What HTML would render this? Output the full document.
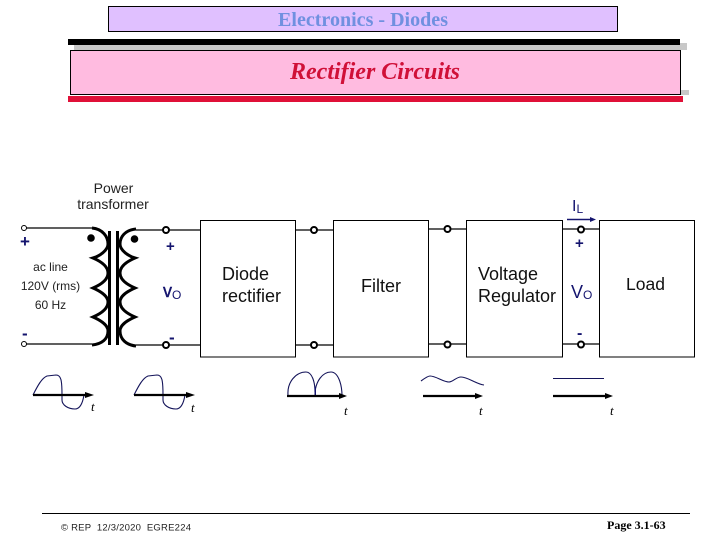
<!DOCTYPE html>
<html>
<head>
<meta charset="utf-8">
<style>
html,body{margin:0;padding:0;background:#fff;}
body{width:720px;height:540px;overflow:hidden;}
svg{display:block;}
text{font-family:"Liberation Sans",sans-serif;}
.s{font-family:"Liberation Serif",serif;}
.l{stroke:#000;stroke-width:1.2;fill:none;}
.c{stroke:#000;stroke-width:2;fill:#fff;}
.w{stroke:#14145a;stroke-width:1.1;fill:none;}
.a{stroke:#000;stroke-width:2.2;fill:none;}
</style>
</head>
<body>
<svg width="720" height="540" viewBox="0 0 720 540" xmlns="http://www.w3.org/2000/svg">
<rect width="720" height="540" fill="#fff"/>
<!-- header -->
<rect x="108.500" y="6.500" width="509" height="25" fill="#e0c0ff" stroke="#000" stroke-width="1"/>
<text class="s" x="278" y="26" font-size="20" font-weight="bold" fill="#7090e0" textLength="170" lengthAdjust="spacingAndGlyphs">Electronics - Diodes</text>
<rect x="74" y="43" width="613" height="7" fill="#c8c8c8"/>
<rect x="681" y="90" width="8" height="5" fill="#c8c8c8"/>
<rect x="68" y="39" width="612" height="6" fill="#000"/>
<rect x="70.500" y="50.500" width="610" height="44" fill="#ffbbe0" stroke="#000" stroke-width="1"/>
<rect x="68" y="96" width="615" height="6" fill="#e01038"/>
<text class="s" x="290" y="79" font-size="24" font-weight="bold" font-style="italic" fill="#d01038" textLength="170" lengthAdjust="spacingAndGlyphs">Rectifier Circuits</text>

<!-- transformer labels -->
<text x="113.500" y="193" font-size="14" fill="#222" text-anchor="middle">Power</text>
<text x="113" y="209" font-size="14" fill="#222" text-anchor="middle">transformer</text>
<text x="50.500" y="271" font-size="12" fill="#222" text-anchor="middle">ac line</text>
<text x="50.500" y="290" font-size="12" fill="#222" text-anchor="middle">120V (rms)</text>
<text x="50.500" y="309" font-size="12" fill="#222" text-anchor="middle">60 Hz</text>
<text x="20" y="247" font-size="17" font-weight="bold" fill="#14146e">+</text>
<text x="22" y="339" font-size="17" font-weight="bold" fill="#14146e">-</text>
<text x="166" y="251" font-size="15" font-weight="bold" fill="#14146e">+</text>

<!-- wires left -->
<path class="l" d="M26 228H92M26 344H92M166 230H200M166 345H200M295 230H333M295 345H333M428 229H466M428 344H466M562 229H599M562 344H599M136 230H166M136 345H166"/>
<circle cx="24" cy="228" r="2.500" fill="#fff" stroke="#000" stroke-width="1"/>
<circle cx="24" cy="344" r="2.500" fill="#fff" stroke="#000" stroke-width="1"/>

<!-- transformer -->
<rect x="108" y="231" width="3" height="114" fill="#000"/>
<rect x="116" y="231" width="3" height="114" fill="#000"/>
<path d="M92 228C103 229 108 237 108 244C108 250 100 256 93 258C100 261 108 266 108 273C108 280 100 285 93 288C100 291 108 296 108 302C108 309 100 314 93 317C100 320 108 325 108 331C108 339 102 344 92 345" fill="none" stroke="#000" stroke-width="3"/>
<path d="M136 229C125 230 120 237 120 244C120 250 128 256 135 258C128 261 120 266 120 273C120 280 128 285 135 288C128 291 120 296 120 302C120 309 128 314 135 317C128 320 120 325 120 331C120 339 126 345 136 346" fill="none" stroke="#000" stroke-width="3"/>
<circle cx="91" cy="238" r="3.800" fill="#000"/>
<circle cx="134.500" cy="239" r="3.800" fill="#000"/>

<!-- terminals -->
<circle class="c" cx="166" cy="230" r="3"/>
<circle class="c" cx="166" cy="345" r="3"/>
<circle class="c" cx="314" cy="230" r="3"/>
<circle class="c" cx="314" cy="345" r="3"/>
<circle class="c" cx="447.500" cy="229" r="3"/>
<circle class="c" cx="447.500" cy="344.500" r="3"/>
<circle class="c" cx="581" cy="229.500" r="3"/>
<circle class="c" cx="581" cy="344.500" r="3"/>

<text x="169" y="343" font-size="17" font-weight="bold" fill="#14146e">-</text>
<text x="163" y="297" font-size="18" fill="#14146e" stroke="#14146e" stroke-width="0.4">v<tspan font-size="12" dy="2" stroke="none">O</tspan></text>

<!-- boxes -->
<rect x="200.500" y="220.500" width="95" height="136.500" fill="#fff" stroke="#000" stroke-width="1"/>
<rect x="333.500" y="220.500" width="95" height="136.500" fill="#fff" stroke="#000" stroke-width="1"/>
<rect x="466.500" y="220.500" width="96" height="136.500" fill="#fff" stroke="#000" stroke-width="1"/>
<rect x="599.500" y="220.500" width="95" height="136.500" fill="#fff" stroke="#000" stroke-width="1"/>
<text x="222" y="280" font-size="18" fill="#111">Diode</text>
<text x="222" y="302" font-size="18" fill="#111">rectifier</text>
<text x="361" y="292" font-size="18" fill="#111">Filter</text>
<text x="478" y="280" font-size="18" fill="#111">Voltage</text>
<text x="478" y="302" font-size="18" fill="#111">Regulator</text>
<text x="626" y="290" font-size="17.500" fill="#111">Load</text>

<!-- IL + Vo -->
<text x="572" y="211" font-size="16" fill="#14146e">I<tspan font-size="12" dy="2">L</tspan></text>
<path d="M567 219.500H592" stroke="#14146e" stroke-width="1.600" fill="none"/>
<path d="M590 217L596 219.500L590 222Z" fill="#14146e"/>
<text x="575" y="248" font-size="15" font-weight="bold" fill="#14146e">+</text>
<text x="577" y="338" font-size="16" font-weight="bold" fill="#14146e">-</text>
<text x="571" y="298" font-size="18" fill="#14146e">V<tspan font-size="12" dy="1">O</tspan></text>

<!-- waveforms -->
<path class="w" d="M33 395C38 385 42 378 47 376L56 375C61 375 62 380 62 395L62 400C62 405 68 409 75 409C81 409 83 401 84 395"/>
<path class="a" d="M33 395H88"/><path d="M85 392L94 395L85 398Z"/>
<text class="s" x="91" y="411" font-size="13" font-style="italic">t</text>

<path class="w" d="M134 395C139 385 143 378 148 376L157 375C162 375 163 380 163 395L163 400C163 405 169 409 176 409C182 409 184 401 185 395"/>
<path class="a" d="M134 395H189"/><path d="M186 392L195 395L186 398Z"/>
<text class="s" x="191" y="412" font-size="13" font-style="italic">t</text>

<path class="w" d="M288 395C287 382 296 372 306 372C312 372 315 382 315 392C316 382 322 372 331 372C338 372 342 384 342 396"/>
<path d="M314.500 387H316V396H314.500Z" fill="#14146e"/>
<path class="a" d="M287 396H342"/><path d="M339 393L347 396L339 399Z"/>
<text class="s" x="344" y="415" font-size="13" font-style="italic">t</text>

<path class="w" d="M421 381C425 378 428 376 430 376C436 376 443 382 449 382C453 382 456 377 461 377C468 377 476 384 484 385"/>
<path class="a" d="M423 396H478"/><path d="M475 393L483 396L475 399Z"/>
<text class="s" x="479" y="415" font-size="13" font-style="italic">t</text>

<path class="w" d="M553 378.500H604"/>
<path class="a" d="M553 396H608"/><path d="M605 393L613 396L605 399Z"/>
<text class="s" x="610" y="415" font-size="13" font-style="italic">t</text>

<!-- footer -->
<path d="M42 513.500H690" stroke="#000" stroke-width="1"/>
<text x="61" y="530.500" font-size="9.500" fill="#222" textLength="130" lengthAdjust="spacing" xml:space="preserve">© REP  12/3/2020  EGRE224</text>
<text class="s" x="607" y="529" font-size="12" font-weight="bold" fill="#000">Page 3.1-63</text>
</svg>
</body>
</html>
